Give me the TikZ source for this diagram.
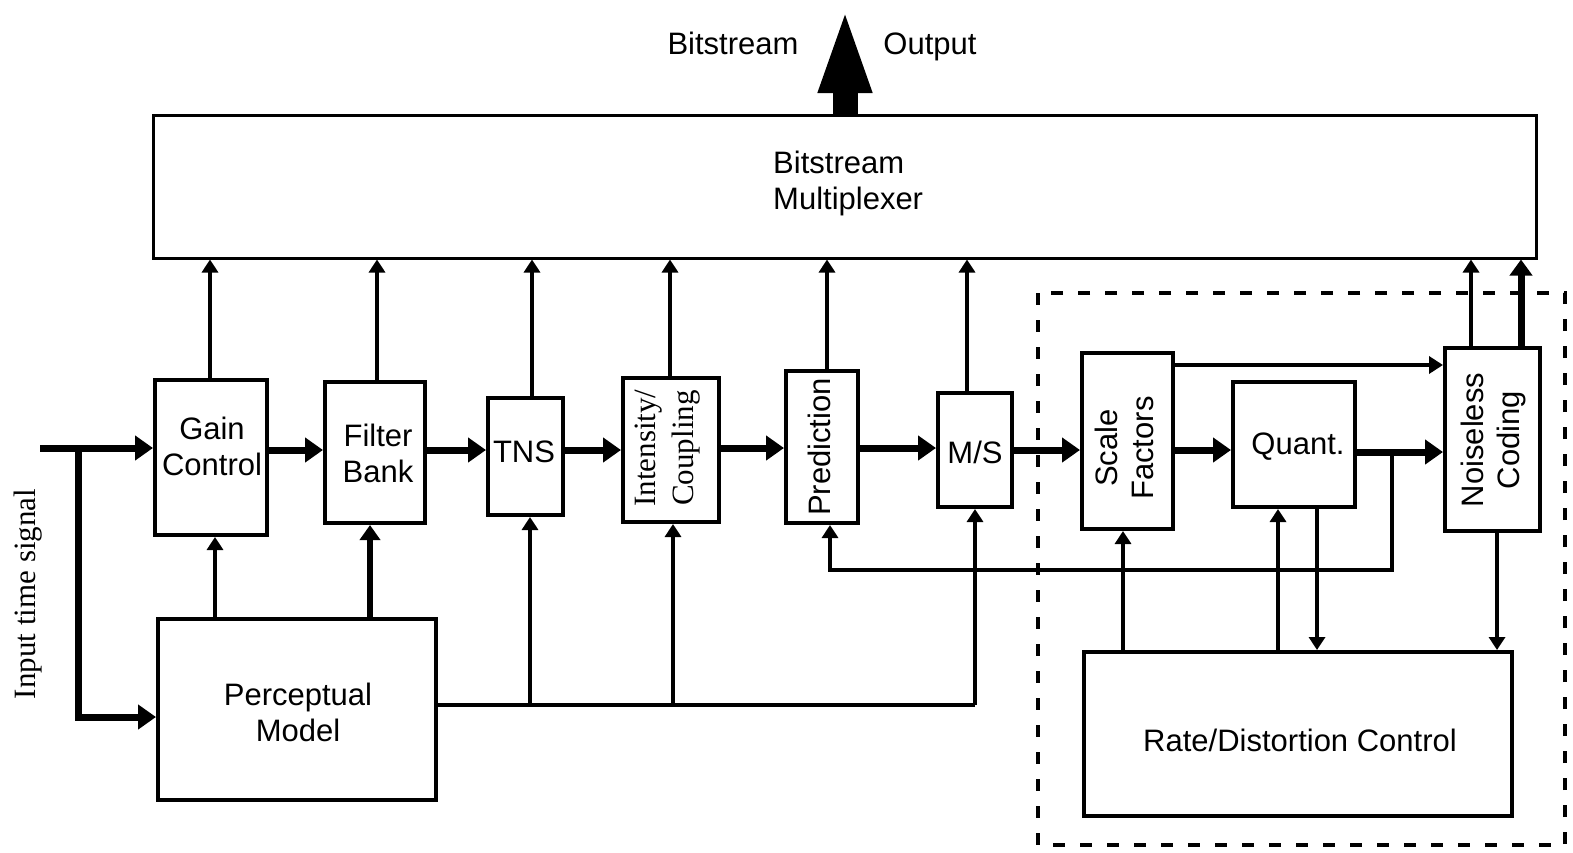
\documentclass[tikz,border=0pt]{standalone}
\usepackage{fontspec}
\setmainfont{Liberation Sans}
\newfontfamily\seriffont{Liberation Serif}
\usetikzlibrary{arrows.meta}
\begin{document}
\begin{tikzpicture}[x=1pt,y=-1pt,
  box/.style={draw, line width=4pt, inner sep=0pt},
  txt/.style={font=\fontsize{31}{36}\selectfont, align=center, inner sep=0pt},
  stxt/.style={font=\seriffont\fontsize{31}{38}\selectfont, align=center, inner sep=0pt},
  thinarrow/.style={line width=3.5pt, -{Triangle[width=16pt,length=13pt]}},
  thickarrow/.style={line width=7pt, -{Triangle[width=24pt,length=18pt]}},
  wire/.style={line width=3.5pt},
  dashbox/.style={line width=4pt, dash pattern=on 12pt off 15pt},
]
\useasboundingbox (0,0) rectangle (1573,852);

% boxes
\node[box, line width=3pt, minimum width=1383pt, minimum height=143pt] (mux) at (844.5,186.5) {};
\node[box, minimum width=112pt, minimum height=155pt] (gain) at (211,457.5) {};
\node[box, minimum width=100pt, minimum height=141pt] (fb) at (375,452.5) {};
\node[box, minimum width=75pt, minimum height=117pt] (tns) at (525.5,456.5) {};
\node[box, minimum width=96pt, minimum height=144pt] (int) at (671,450) {};
\node[box, minimum width=72pt, minimum height=152pt] (pred) at (822,447) {};
\node[box, minimum width=74pt, minimum height=114pt] (ms) at (975,450) {};
\node[box, minimum width=91pt, minimum height=176pt] (sf) at (1127.5,441) {};
\node[box, minimum width=122pt, minimum height=125pt] (q) at (1294,444.5) {};
\node[box, minimum width=95pt, minimum height=183pt] (nc) at (1492.5,439.5) {};
\node[box, minimum width=428pt, minimum height=164pt] (rd) at (1298,734) {};
\node[box, minimum width=278pt, minimum height=181pt] (pm) at (297,709.5) {};

% dashed region
\draw[dashbox] (1038,293) rectangle (1565,845);

% labels
\node[txt, align=left, anchor=west] (lmux) at (773,183) {Bitstream\\Multiplexer};
\node[txt] (lgain) at (212,446) {Gain\\Control};
\node[txt] (lfb) at (378,453) {Filter\\Bank};
\node[txt] (ltns) at (524,452) {TNS};
\node[stxt, rotate=90] (lint) at (668,448) {Intensity/\\Coupling};
\node[txt, rotate=90] (lpred) at (819,447) {Prediction};
\node[txt] (lms) at (975,452) {M/S};
\node[txt, rotate=90] (lsf) at (1124,448) {Scale\\Factors};
\node[txt] (lq) at (1298,447) {Quant.};
\node[txt, rotate=90] (lnc) at (1493,440) {Noiseless\\Coding};
\node[txt] (lrd) at (1300,740) {Rate/Distortion Control};
\node[txt] (lpm) at (298,712) {Perceptual\\Model};
\node[stxt, rotate=90] (lin) at (28,594) {Input time signal};
\node[txt, anchor=base] (lbs) at (733,54) {Bitstream};
\node[txt, anchor=base] (lout) at (930,54) {Output};

% output arrow
\coordinate (outtip) at (845,5);
\draw[line width=25pt, -{Triangle[width=47pt,length=88pt]}] (mux.north -| outtip) -- (outtip);

% upward arrows into multiplexer
\foreach \n/\x in {gain/210, fb/377, tns/532, int/670, pred/827, ms/967, nc/1471}
  \draw[thinarrow] (\n.north -| \x,0) -- (mux.south -| \x,0);
\draw[line width=7pt, -{Triangle[width=22pt,length=16pt]}] (nc.north -| 1521,0) -- (mux.south -| 1521,0);

% main flow
\coordinate (in) at (40,448);
\coordinate (br) at (78,448);
\coordinate (fy) at (0,450);
\draw[thickarrow] (in) -- (gain.west |- in);
\draw[thickarrow] (br) |- (pm.west |- 0,717);
\draw[thickarrow] (gain.east |- fy) -- (fb.west |- fy);
\draw[thickarrow] (fb.east |- fy) -- (tns.west |- fy);
\draw[thickarrow] (tns.east |- fy) -- (int.west |- fy);
\draw[thickarrow] (int.east |- 0,448) -- (pred.west |- 0,448);
\draw[thickarrow] (pred.east |- 0,448) -- (ms.west |- 0,448);
\draw[thickarrow] (ms.east |- fy) -- (sf.west |- fy);
\draw[thickarrow] (sf.east |- fy) -- (q.west |- fy);
\draw[thickarrow] (q.east |- 0,452) -- (nc.west |- 0,452);
\draw[line width=4pt, -{Triangle[width=17pt,length=14pt]}] (sf.east |- 0,365) -- (nc.west |- 0,365);

% feedback from quantizer output to prediction
\coordinate (qtap) at (1392,452);
\draw[thinarrow] (qtap) -- (1392,570) -| (pred.south -| 830,0);

% perceptual model outputs
\draw[thinarrow] (pm.north -| 215,0) -- (gain.south -| 215,0);
\draw[line width=5.5pt, -{Triangle[width=20pt,length=15pt]}] (pm.north -| 370,0) -- (fb.south -| 370,0);
\coordinate (pmtap) at (975,705);
\draw[wire] (pm.east |- pmtap) -- (pmtap);
\draw[thinarrow] (530,705) -- (tns.south -| 530,0);
\draw[thinarrow] (673,705) -- (int.south -| 673,0);
\draw[thinarrow] (pmtap) -- (ms.south -| pmtap);

% rate/distortion control connections
\draw[thinarrow] (rd.north -| 1123,0) -- (sf.south -| 1123,0);
\draw[thinarrow] (rd.north -| 1278,0) -- (q.south -| 1278,0);
\draw[thinarrow] (q.south -| 1317,0) -- (rd.north -| 1317,0);
\draw[thinarrow] (nc.south -| 1497,0) -- (rd.north -| 1497,0);
\end{tikzpicture}
\end{document}
